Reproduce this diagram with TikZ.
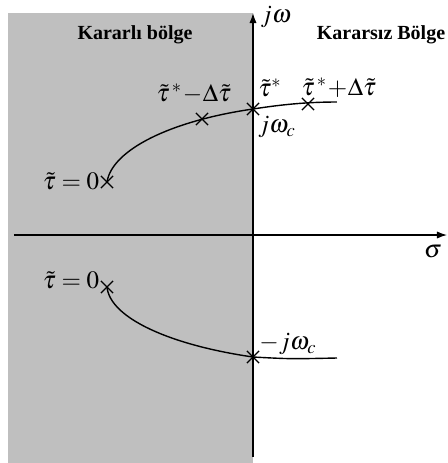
\documentclass[tikz,border=0pt]{standalone}
\usepackage{mathptmx}
\usepackage{fontspec}
\setmainfont{Liberation Serif}
\usetikzlibrary{arrows.meta,shapes.misc}

\begin{document}
\begin{tikzpicture}[x=0.5pt, y=-0.5pt]
    \tikzset{cx/.style={cross out, draw=black, line width=0.6pt, minimum size=5.5pt, inner sep=0pt},
             ax/.style={-{Latex[length=5pt, width=3.6pt]}, line width=0.6pt},
             kl/.style={line width=0.7pt},
             rg/.style={font=\fontsize{10}{12}\selectfont\bfseries},
             mt/.style={font=\fontsize{12.5}{14}\selectfont, inner sep=0pt}}
    \useasboundingbox (0,0) rectangle (448,463);
    \fill[gray!50] (8,13) rectangle (253,463);
    \coordinate (sl) at (14,235); \coordinate (sr) at (447,235);
    \coordinate (wb) at (253,457); \coordinate (wt) at (253,13);
    \draw[ax] (sl) -- (sr);
    \draw[ax] (wb) -- (wt);
    \node[mt] (jw) at (276,17) {$j\omega$};
    \node[mt] (sg) at (433,252) {$\sigma$};
    \node[rg] (st) at (135,35) {Kararlı bölge};
    \node[rg] (us) at (381,35) {Kararsız Bölge};
    \node[cx] (u0) at (107,182) {}; \node[cx] (um) at (202,119) {};
    \node[cx] (uc) at (253,109) {}; \node[cx] (up) at (308,104) {};
    \coordinate (ue) at (337,102);
    \node[cx] (l0) at (107,287) {}; \node[cx] (lc) at (253,357) {};
    \coordinate (le) at (337,358);
    \draw[kl] (u0.center) .. controls (112,150) and (170,121) .. (uc.center)
              .. controls (285,104) and (310,102) .. (ue);
    \draw[kl] (l0.center) .. controls (110,318) and (170,345) .. (lc.center)
              .. controls (290,359) .. (le);
    \node[mt] at (71,181) {$\tilde{\tau}=0$};
    \node[mt] at (71,280) {$\tilde{\tau}=0$};
    \node[mt] at (194,94) {$\tilde{\tau}^{\,*}\!-\!\Delta\tilde{\tau}$};
    \node[mt] at (270,88) {$\tilde{\tau}^{*}$};
    \node[mt] at (339,88) {$\tilde{\tau}^{\,*}\!+\!\Delta\tilde{\tau}$};
    \node[mt] at (277,127) {$j\omega_c$};
    \node[mt] at (288,344) {$-j\omega_c$};
\end{tikzpicture}
\end{document}
